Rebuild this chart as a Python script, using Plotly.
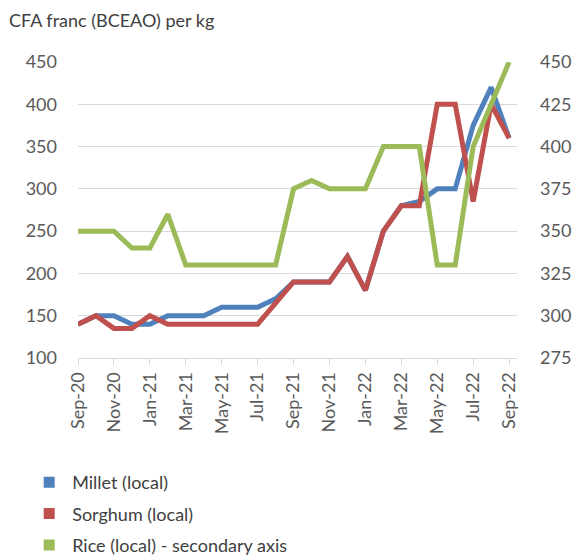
import plotly.graph_objects as go

months = ["Sep-20", "Oct-20", "Nov-20", "Dec-20", "Jan-21", "Feb-21", "Mar-21", "Apr-21",
          "May-21", "Jun-21", "Jul-21", "Aug-21", "Sep-21", "Oct-21", "Nov-21", "Dec-21",
          "Jan-22", "Feb-22", "Mar-22", "Apr-22", "May-22", "Jun-22", "Jul-22", "Aug-22", "Sep-22"]
millet = [140, 150, 150, 140, 140, 150, 150, 150, 160, 160, 160, 170, 190, 190, 190, 220,
          180, 250, 280, 285, 300, 300, 375, 420, 360]
sorghum = [140, 150, 135, 135, 150, 140, 140, 140, 140, 140, 140, 165, 190, 190, 190, 220,
           180, 250, 280, 280, 400, 400, 285, 400, 360]
rice = [350, 350, 350, 340, 340, 360, 330, 330, 330, 330, 330, 330, 375, 380, 375, 375,
        375, 400, 400, 400, 330, 330, 400, 425, 450]

left_ticks = [100, 150, 200, 250, 300, 350, 400, 450]
right_ticks = [275, 300, 325, 350, 375, 400, 425, 450]

idx = list(range(len(months)))
tick_idx = idx[::2]
tick_txt = months[::2]

BLUE = "#4f81bd"
RED = "#c0504d"
GREEN = "#9bbb59"
FONT = "Lato"
TXT = "#595959"

fig = go.Figure()
fig.add_trace(go.Scatter(x=idx, y=millet, mode="lines", line=dict(color=BLUE, width=5),
                         showlegend=False, name="Millet (local)"))
fig.add_trace(go.Scatter(x=idx, y=sorghum, mode="lines", line=dict(color=RED, width=5),
                         showlegend=False, name="Sorghum (local)"))
fig.add_trace(go.Scatter(x=idx, y=rice, mode="lines", line=dict(color=GREEN, width=5),
                         showlegend=False, name="Rice (local) - secondary axis", yaxis="y2"))
for nm, c in [("Millet (local)", BLUE), ("Sorghum (local)", RED),
              ("Rice (local) - secondary axis", GREEN)]:
    fig.add_trace(go.Scatter(x=[None], y=[None], mode="markers",
                             marker=dict(symbol="square", size=11, color=c),
                             name=nm, showlegend=True, legendgroup=nm))

fig.update_layout(
    width=575, height=558,
    margin=dict(l=78, r=58, t=62, b=200, autoexpand=False),
    paper_bgcolor="white", plot_bgcolor="white",
    font=dict(family=FONT, size=18, color=TXT),
    xaxis=dict(range=[0, 24.44], tickvals=tick_idx, ticktext=tick_txt, tickangle=-90,
               showgrid=False, zeroline=False, showline=True, linecolor="#d9d9d9",
               ticks="outside", ticklen=6, tickcolor="#d9d9d9", automargin=False,
               tickfont=dict(size=18, color=TXT)),
    yaxis=dict(range=[100, 450], tickvals=left_ticks, showgrid=True, gridcolor="#d9d9d9",
               gridwidth=1, zeroline=False, ticklabelstandoff=20, automargin=False,
               tickfont=dict(size=18, color=TXT)),
    yaxis2=dict(range=[275, 450], tickvals=right_ticks, overlaying="y", side="right",
                showgrid=False, zeroline=False, ticklabelstandoff=22, automargin=False,
                tickfont=dict(size=18, color=TXT)),
    legend=dict(x=-0.118, xanchor="left", y=-0.358, yanchor="top", itemwidth=36,
                font=dict(size=18, color="#404040"), traceorder="grouped",
                tracegroupgap=5, bgcolor="rgba(0,0,0,0)"),
    annotations=[dict(text="CFA franc (BCEAO) per kg", xref="paper", yref="paper",
                      x=-0.162, y=1.142, xanchor="left", yanchor="middle", showarrow=False,
                      font=dict(size=18, color="#404040", family=FONT))],
)

fig.write_html("out.html", config={"displayModeBar": False},
               post_script="document.body.style.margin='0';document.body.style.overflow='hidden';")
